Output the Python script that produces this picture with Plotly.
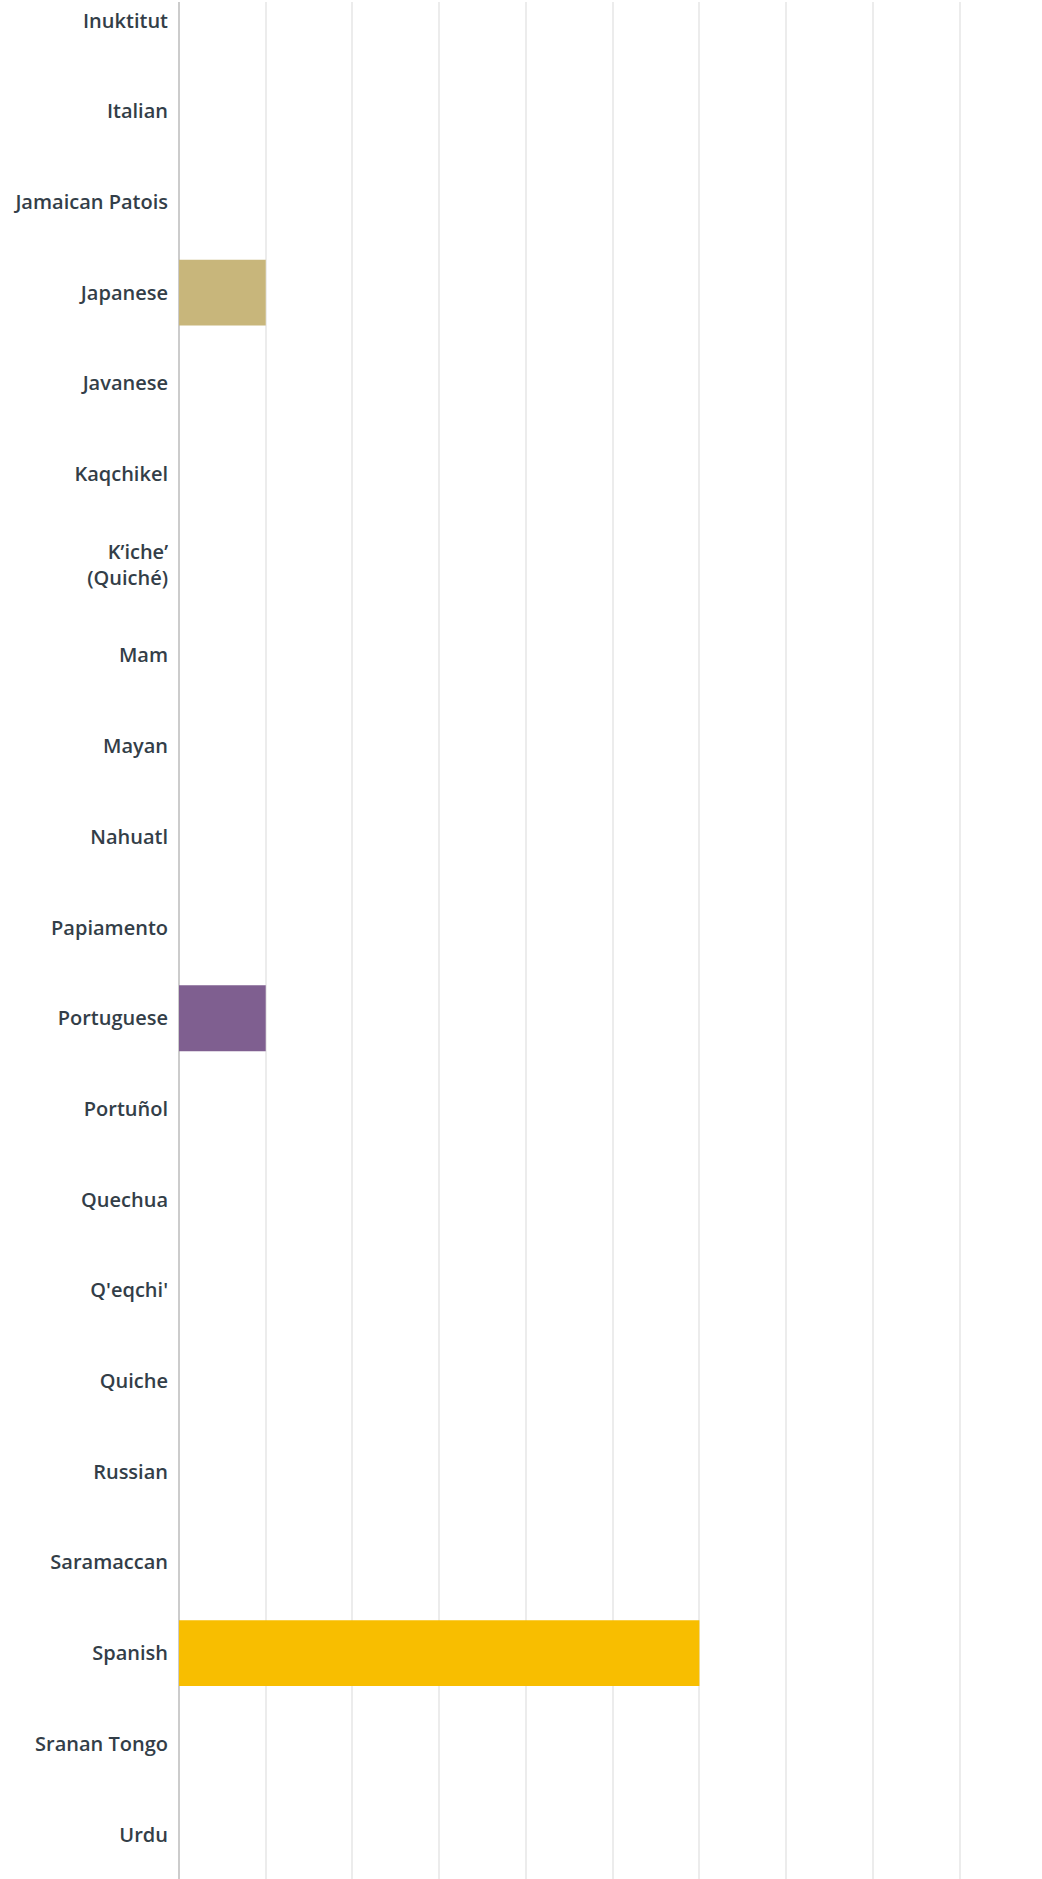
import plotly.graph_objects as go

languages = ["Inuktitut", "Italian", "Jamaican Patois", "Japanese", "Javanese", "Kaqchikel",
             "K’iche’<br>(Quiché)", "Mam", "Mayan", "Nahuatl", "Papiamento", "Portuguese",
             "Portuñol", "Quechua", "Q'eqchi'", "Quiche", "Russian", "Saramaccan", "Spanish",
             "Sranan Tongo", "Urdu"]
counts = [0, 0, 0, 1, 0, 0, 0, 0, 0, 0, 0, 1, 0, 0, 0, 0, 0, 0, 6, 0, 0]
bar_colors = {"Japanese": "#c8b67b", "Portuguese": "#7f5f90", "Spanish": "#f8be00"}
colors = [bar_colors.get(l, "#f8be00") for l in languages]

fig = go.Figure(go.Bar(
    x=counts, y=languages, orientation="h",
    marker=dict(color=colors, line=dict(width=0)),
    width=0.727, hoverinfo="x+y",
))

fig.update_layout(
    width=1042, height=1879,
    margin=dict(l=179, r=0, t=2, b=0),
    paper_bgcolor="white", plot_bgcolor="white",
    showlegend=False,
    font=dict(family="Open Sans", size=20, color="#333e48", weight=600),
)
fig.update_xaxes(range=[0, 9.95], dtick=1, showgrid=True, gridcolor="#ececec", gridwidth=1.5,
                 showticklabels=False, zeroline=True, zerolinecolor="#cccccc", zerolinewidth=2,
                 fixedrange=True)
fig.update_yaxes(type="category", categoryorder="array", categoryarray=languages,
                 range=[20.49, -0.204], showgrid=False, ticks="", ticklabelstandoff=10,
                 tickfont=dict(family="Open Sans", size=20, color="#333e48", weight=600))

fig.write_html("out.html", config={"displayModeBar": False},
               post_script="document.body.style.margin='0';document.body.style.overflow='hidden';")
